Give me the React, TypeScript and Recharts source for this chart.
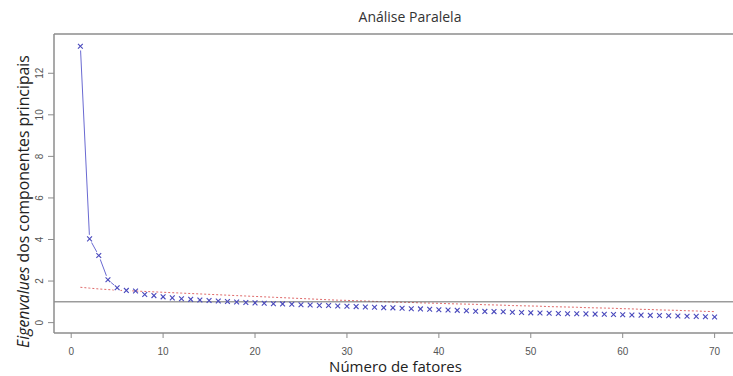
import { ComposedChart, Line, XAxis, YAxis, ReferenceLine, Label } from "recharts";

// eigenvalues of the principal components (blue x's)
const eigenvalues = [
  13.3, 4.03, 3.23, 2.06, 1.68, 1.55, 1.52, 1.35, 1.3, 1.24,
  1.19, 1.15, 1.12, 1.09, 1.06, 1.04, 1.02, 0.99, 0.97, 0.95,
  0.93, 0.91, 0.9, 0.88, 0.86, 0.85, 0.83, 0.82, 0.8, 0.79,
  0.77, 0.75, 0.74, 0.72, 0.71, 0.69, 0.67, 0.66, 0.64, 0.62,
  0.61, 0.59, 0.57, 0.55, 0.54, 0.53, 0.52, 0.5, 0.49, 0.47,
  0.46, 0.45, 0.44, 0.43, 0.43, 0.42, 0.41, 0.4, 0.39, 0.38,
  0.37, 0.36, 0.35, 0.34, 0.33, 0.32, 0.31, 0.3, 0.28, 0.27,
];

// simulated (parallel analysis) eigenvalues, red dashed line
const simulated = [
  1.7, 1.66, 1.62, 1.59, 1.56, 1.54, 1.52, 1.5, 1.48, 1.46,
  1.44, 1.42, 1.4, 1.38, 1.36, 1.34, 1.32, 1.3, 1.28, 1.26,
  1.24, 1.22, 1.2, 1.18, 1.16, 1.14, 1.12, 1.1, 1.08, 1.07,
  1.05, 1.04, 1.02, 1.01, 0.99, 0.98, 0.97, 0.95, 0.94, 0.93,
  0.91, 0.9, 0.89, 0.88, 0.86, 0.85, 0.84, 0.82, 0.81, 0.8,
  0.79, 0.77, 0.76, 0.75, 0.74, 0.72, 0.71, 0.7, 0.69, 0.67,
  0.66, 0.64, 0.63, 0.61, 0.6, 0.59, 0.57, 0.56, 0.54, 0.53,
];

const xTicks = [0, 10, 20, 30, 40, 50, 60, 70];
const yTicks = [0, 2, 4, 6, 8, 10, 12];
const kaiserLine = 1;
const joinedPoints = 5; // the first points are joined by a line

const data = eigenvalues.map((v, i) => ({
  n: i + 1,
  eig: v,
  head: i < joinedPoints ? v : null,
  sim: simulated[i],
}));

const X_DOMAIN: [number, number] = [-1.87, 72];
const Y_DOMAIN: [number, number] = [-0.5, 13.89];
const BOX = "#8c8c8c";
const BLUE = "#4848bc";
const TICK_FONT = "'Liberation Sans Narrow', 'Liberation Sans', sans-serif";
const LABEL_FONT = "'Open Sans', 'Noto Sans', sans-serif";

function Cross(props: any) {
  const { cx, cy, index } = props;
  if (cx == null || cy == null) return null;
  const s = 2.4;
  return (
    <g key={`x-${index}`}>
      {index < joinedPoints + 1 && <circle cx={cx} cy={cy} r={4.2} fill="#fff" />}
      <line x1={cx - s} y1={cy - s} x2={cx + s} y2={cy + s} stroke={BLUE} strokeWidth={1.1} />
      <line x1={cx - s} y1={cy + s} x2={cx + s} y2={cy - s} stroke={BLUE} strokeWidth={1.1} />
    </g>
  );
}

function YTick({ x, y, payload }: any) {
  const bx = x - 3;
  return (
    <text
      x={bx}
      y={y}
      transform={`rotate(-90 ${bx} ${y})`}
      textAnchor="middle"
      fontSize={10}
      fontFamily={TICK_FONT}
      fill="#555"
    >
      {payload.value}
    </text>
  );
}

function YTitle({ viewBox }: any) {
  const cx = 23;
  const cy = viewBox.y + viewBox.height / 2 + 18;
  return (
    <text
      x={cx}
      y={cy}
      transform={`rotate(-90 ${cx} ${cy})`}
      textAnchor="middle"
      dominantBaseline="central"
      fontSize={15.8}
      fontFamily={LABEL_FONT}
      fill="#222"
    >
      <tspan fontStyle="italic">Eigenvalues</tspan> dos componentes principais
    </text>
  );
}

function XTitle({ viewBox }: any) {
  return (
    <text
      x={viewBox.x + viewBox.width / 2 + 2}
      y={viewBox.y + 39}
      textAnchor="middle"
      fontSize={15}
      fontFamily={LABEL_FONT}
      fill="#222"
    >
      Número de fatores
    </text>
  );
}

export default function App() {
  return (
    <div style={{ position: "relative", width: 733, height: 376, background: "#fff" }}>
      <style>{`body{margin:0}`}</style>
      <div
        style={{
          position: "absolute",
          top: 7,
          left: 410,
          transform: "translateX(-50%)",
          fontFamily: LABEL_FONT,
          fontSize: 14,
          color: "#333",
          whiteSpace: "nowrap",
        }}
      >
        Análise Paralela
      </div>
      <ComposedChart
        width={733}
        height={376}
        data={data}
        margin={{ top: 34, right: 0, bottom: 0, left: 0 }}
      >
        <XAxis
          dataKey="n"
          type="number"
          domain={X_DOMAIN}
          ticks={xTicks}
          height={43}
          axisLine={{ stroke: BOX, strokeWidth: 1.5 }}
          tickLine={{ stroke: BOX }}
          tickSize={5}
          tickMargin={10}
          tick={{ fontSize: 10, fontFamily: TICK_FONT, fill: "#555" }}
          allowDataOverflow
        >
          <Label content={<XTitle />} />
        </XAxis>
        <YAxis
          type="number"
          domain={Y_DOMAIN}
          ticks={yTicks}
          width={54}
          axisLine={{ stroke: BOX, strokeWidth: 1.5 }}
          tickLine={{ stroke: BOX }}
          tickSize={6}
          tick={<YTick />}
          allowDataOverflow
        >
          <Label content={<YTitle />} />
        </YAxis>
        <ReferenceLine y={Y_DOMAIN[1]} stroke={BOX} strokeWidth={1.5} />
        <Line
          dataKey="head"
          stroke="#6a6ad2"
          strokeWidth={1}
          dot={false}
          connectNulls={false}
          isAnimationActive={false}
        />
        <Line
          dataKey="eig"
          stroke="none"
          dot={<Cross />}
          activeDot={false}
          isAnimationActive={false}
        />
        <Line
          dataKey="sim"
          stroke="#e06a6a"
          strokeWidth={1}
          strokeDasharray="2 2"
          dot={false}
          isAnimationActive={false}
        />
        <ReferenceLine y={kaiserLine} stroke="#6a6a6a" strokeWidth={1} />
      </ComposedChart>
    </div>
  );
}
